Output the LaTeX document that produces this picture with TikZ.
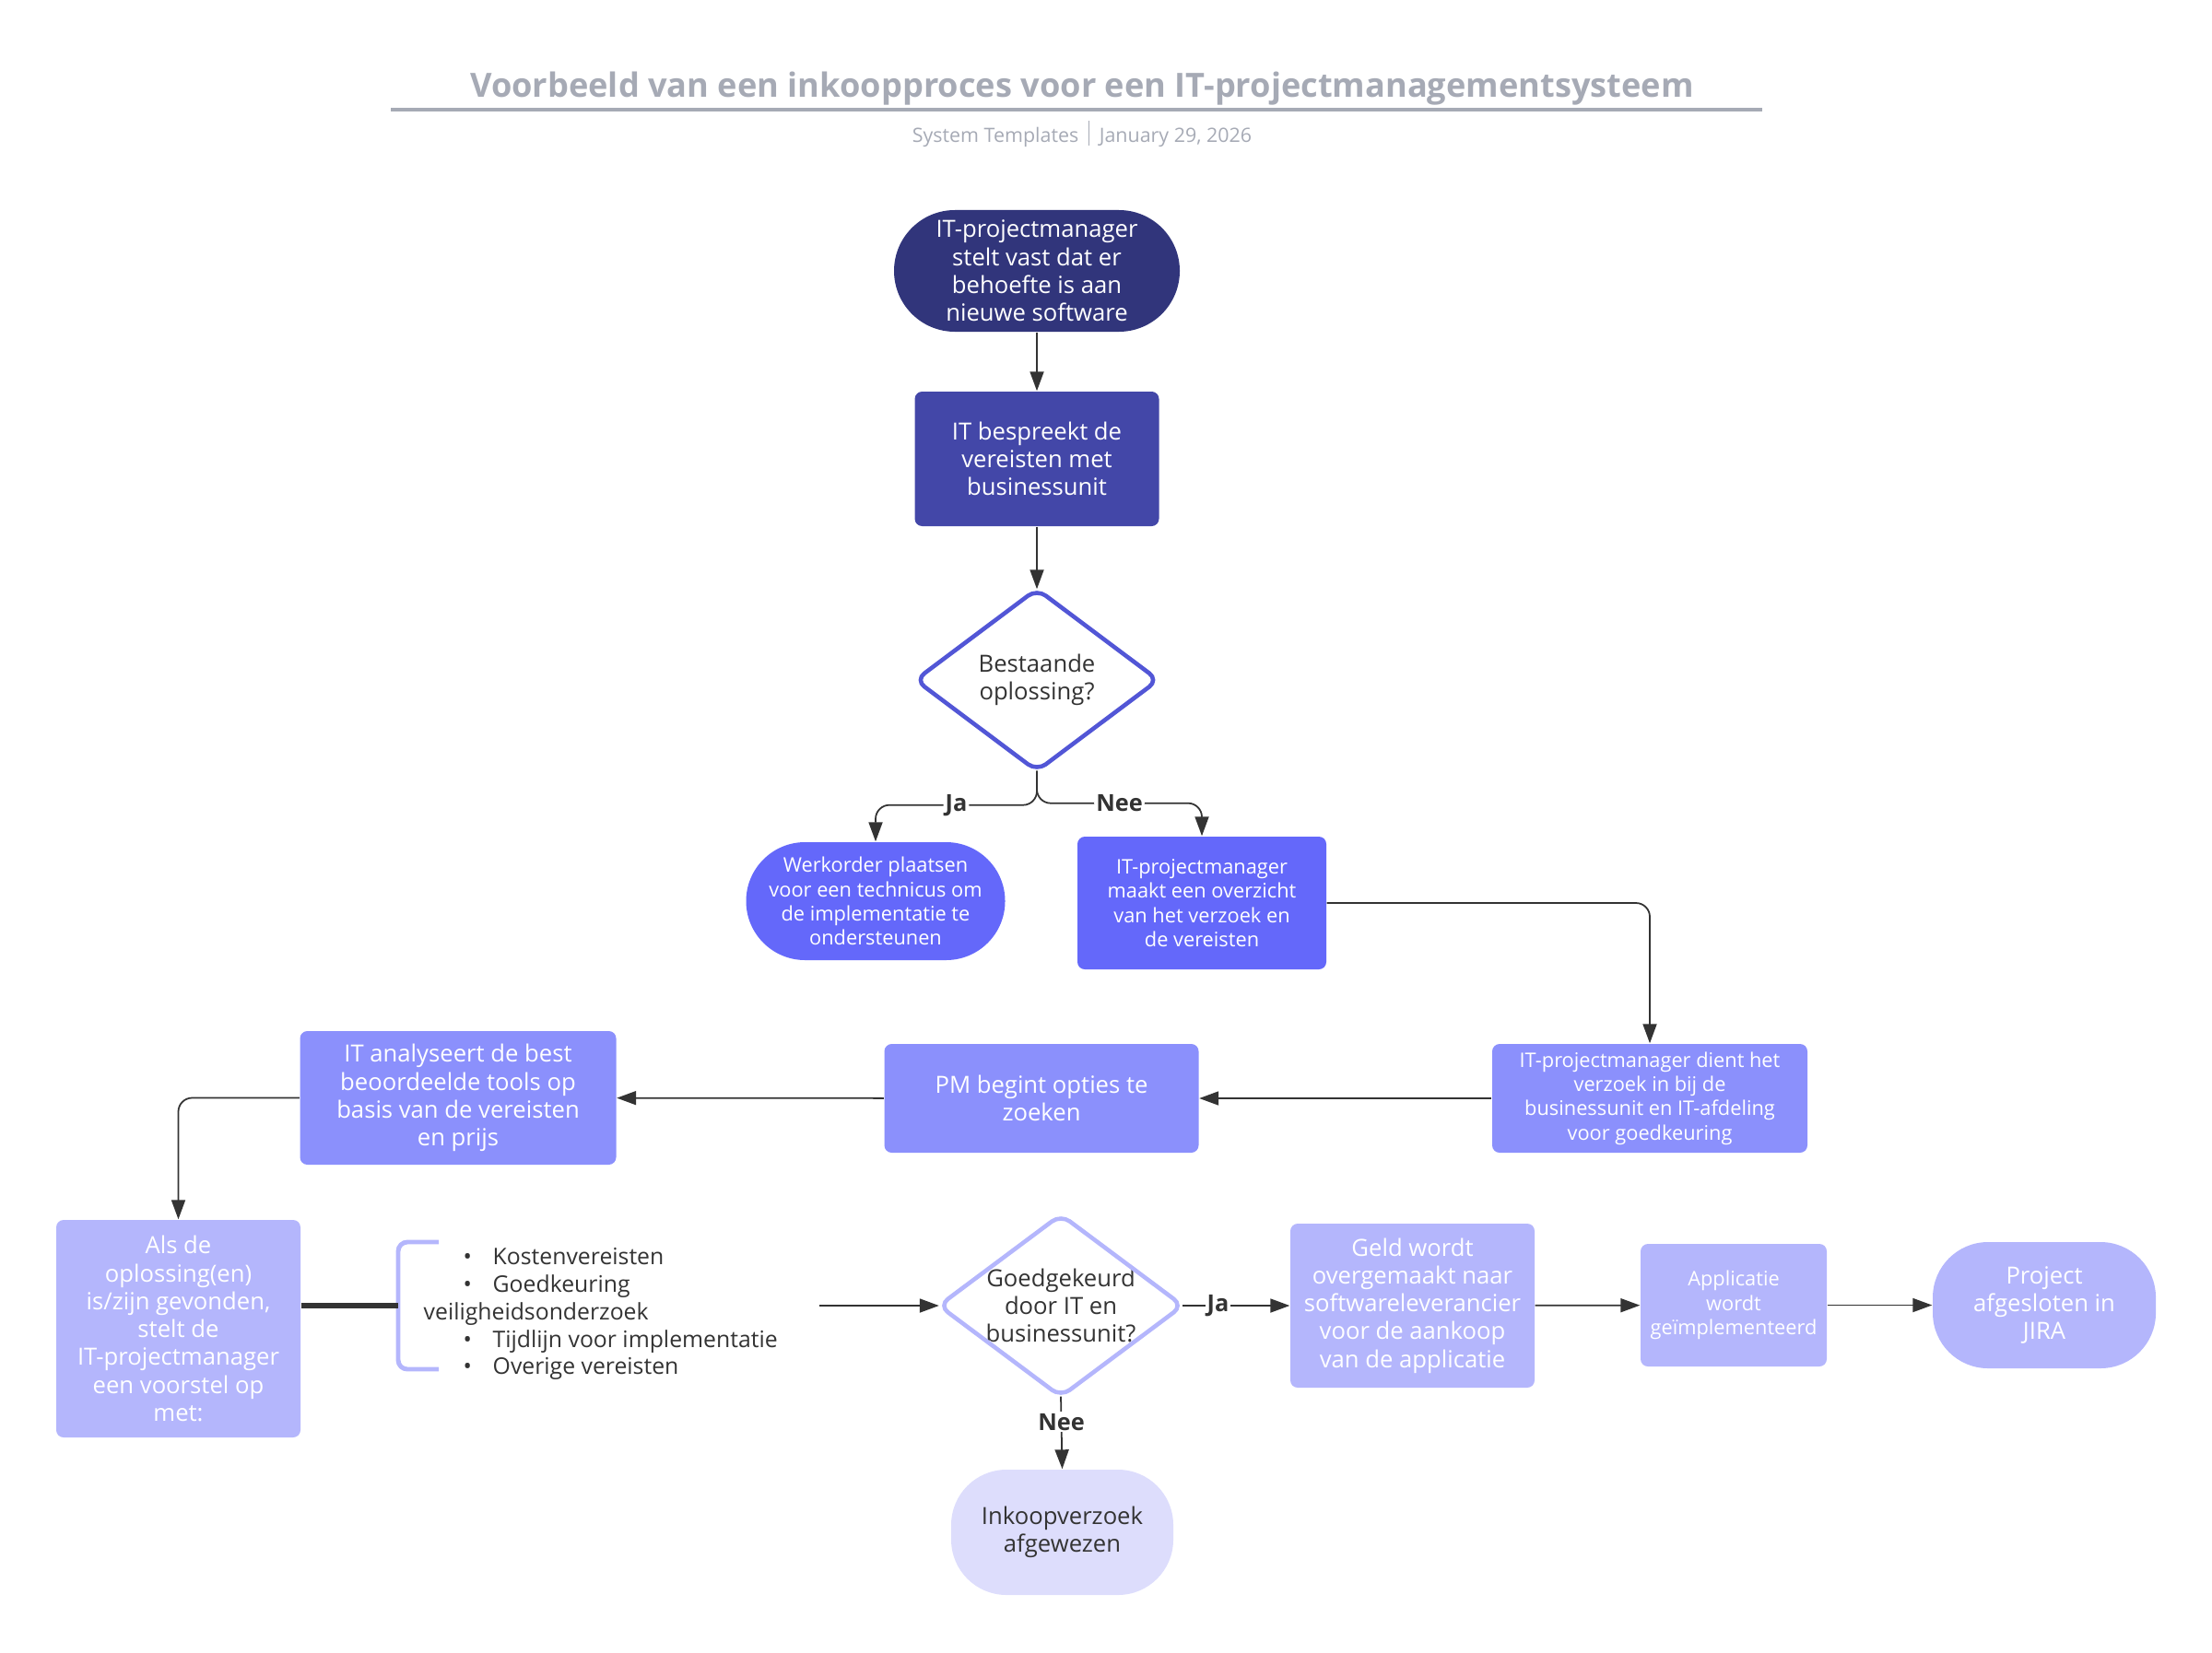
\documentclass[tikz,border=0pt]{standalone}
\usepackage{fontspec}
\setmainfont{Open Sans}
\usetikzlibrary{arrows.meta,positioning}
\definecolor{navy}{HTML}{31357B}
\definecolor{indigoA}{HTML}{4347A8}
\definecolor{indigoB}{HTML}{5256D6}
\definecolor{indigoC}{HTML}{6468FA}
\definecolor{lilacA}{HTML}{8B90FC}
\definecolor{lilacB}{HTML}{B4B6FC}
\definecolor{lilacC}{HTML}{DDDDFC}
\definecolor{ink}{HTML}{333333}
\definecolor{titlegray}{HTML}{A6AAB5}
\newcommand{\bul}{\hspace*{0.43cm}\makebox[0.32cm][l]{\textbullet}}
\begin{document}
\begin{tikzpicture}[x=1cm, y=-1cm,
  every node/.style = {align=center, inner sep=1pt},
  big/.style = {font=\fontsize{7.3}{8.6}\selectfont},
  small/.style = {font=\fontsize{6.2}{7.5}\selectfont},
  box/.style = {shape=rectangle, rounded corners=0.08cm, text=white},
  pill/.style = {shape=rectangle, rounded corners=#1, text=white},
  choice/.style = {shape=rectangle, text=ink, big, minimum width=2.62cm, minimum height=1.96cm},
  rim/.style = {line width=1.3pt, rounded corners=0.12cm},
  link/.style = {draw=ink, line width=0.5pt, -{Triangle[length=0.21cm, width=0.15cm]}},
  lbl/.style = {font=\bfseries\fontsize{7.2}{8}\selectfont, text=ink, fill=white, inner sep=0.6pt}]
  \useasboundingbox (0,0) rectangle (24,17.93);

  \node[font=\bfseries\fontsize{10.3}{12}\selectfont, text=titlegray] (title) at (11.74,0.96)
    {Voorbeeld van een inkoopproces voor een IT-projectmanagementsysteem};
  \draw[titlegray, line width=1pt] (4.24,1.19) -- (19.12,1.19);
  \node[font=\fontsize{6.1}{7}\selectfont, text=titlegray] (sub) at (11.74,1.45)
    {System Templates\enspace\rule[-0.35ex]{0.3pt}{2.4ex}\enspace January 29, 2026};

  \node[pill=0.66cm, fill=navy, big, minimum width=3.10cm, minimum height=1.32cm] (need) at (11.25,2.94)
    {IT-projectmanager\\stelt vast dat er\\behoefte is aan\\nieuwe software};
  \node[box, fill=indigoA, big, minimum width=2.65cm, minimum height=1.46cm] (talk) at (11.25,4.98)
    {IT bespreekt de\\vereisten met\\businessunit};
  \node[choice] (exist) at (11.25,7.38) {Bestaande\\oplossing?};
  \draw[rim, indigoB] (exist.north) -- (exist.east) -- (exist.south) -- (exist.west) -- cycle;

  \node[pill=0.64cm, fill=indigoC, small, minimum width=2.81cm, minimum height=1.28cm] (order) at (9.50,9.78)
    {Werkorder plaatsen\\voor een technicus om\\de implementatie te\\ondersteunen};
  \node[box, fill=indigoC, small, minimum width=2.70cm, minimum height=1.44cm] (summary) at (13.04,9.80)
    {IT-projectmanager\\maakt een overzicht\\van het verzoek en\\de vereisten};

  \node[box, fill=lilacA, small, minimum width=3.42cm, minimum height=1.18cm] (submit) at (17.90,11.92)
    {IT-projectmanager dient het\\verzoek in bij de\\businessunit en IT-afdeling\\voor goedkeuring};
  \node[box, fill=lilacA, big, minimum width=3.41cm, minimum height=1.18cm] (search) at (11.30,11.92)
    {PM begint opties te\\zoeken};
  \node[box, fill=lilacA, big, minimum width=3.43cm, minimum height=1.45cm] (tools) at (4.97,11.915)
    {IT analyseert de best\\beoordeelde tools op\\basis van de vereisten\\en prijs};

  \node[box, fill=lilacB, big, minimum width=2.65cm, minimum height=2.36cm] (offer) at (1.935,14.42)
    {Als de\\oplossing(en)\\is/zijn gevonden,\\stelt de\\IT-projectmanager\\een voorstel op\\met:};
  \coordinate (brk) at (4.32,14.17);
  \draw[lilacB, line width=1.4pt, rounded corners=0.1cm] (4.76,13.48) -- (4.32,13.48) -- (4.32,14.86) -- (4.76,14.86);
  \node[anchor=west, align=left, font=\fontsize{7.05}{8.5}\selectfont, text=ink, inner sep=0pt] (needs) at (4.59,14.26)
    {\bul Kostenvereisten\\\bul Goedkeuring\\veiligheidsonderzoek\\\bul Tijdlijn voor implementatie\\\bul Overige vereisten};
  \coordinate (lst) at (8.89,14.17);

  \node[choice, minimum width=2.63cm] (approve) at (11.51,14.17) {Goedgekeurd\\door IT en\\businessunit?};
  \draw[rim, lilacB] (approve.north) -- (approve.east) -- (approve.south) -- (approve.west) -- cycle;
  \node[box, fill=lilacB, big, minimum width=2.65cm, minimum height=1.78cm] (pay) at (15.325,14.17)
    {Geld wordt\\overgemaakt naar\\softwareleverancier\\voor de aankoop\\van de applicatie};
  \node[box, fill=lilacB, small, minimum width=2.02cm, minimum height=1.33cm] (deploy) at (18.81,14.165)
    {Applicatie\\wordt\\geïmplementeerd};
  \node[pill=0.6cm, fill=lilacB, big, minimum width=2.42cm, minimum height=1.37cm] (close) at (22.18,14.165)
    {Project\\afgesloten in\\JIRA};
  \node[pill=0.6cm, fill=lilacC, big, text=ink, minimum width=2.41cm, minimum height=1.36cm] (reject) at (11.525,16.63)
    {Inkoopverzoek\\afgewezen};

  \draw[link] (need) -- (talk);
  \draw[link] (talk) -- (exist.north);
  \draw[link, rounded corners=0.15cm] (exist.south) -- ++(0,0.37) -| (order.north) node[lbl, pos=0.25] {Ja};
  \draw[link, rounded corners=0.15cm] (exist.south) -- ++(0,0.35) -| (summary.north) node[lbl, pos=0.25] {Nee};
  \draw[link, rounded corners=0.15cm] (summary.east) -| (submit.north);
  \draw[link] (submit) -- (search);
  \draw[link] (search) -- (tools);
  \draw[link, rounded corners=0.15cm] (tools.west) -| (offer.north);
  \draw[ink, line width=1.8pt] (offer.east |- brk) -- (brk);
  \draw[link] (lst) -- (approve.west);
  \draw[link] (approve.east) -- (pay.west) node[lbl, pos=0.33] {Ja};
  \draw[link] (pay) -- (deploy);
  \draw[link] (deploy) -- (close);
  \draw[link] (approve.south) -- (reject.north) node[lbl, pos=0.35] {Nee};
\end{tikzpicture}
\end{document}
